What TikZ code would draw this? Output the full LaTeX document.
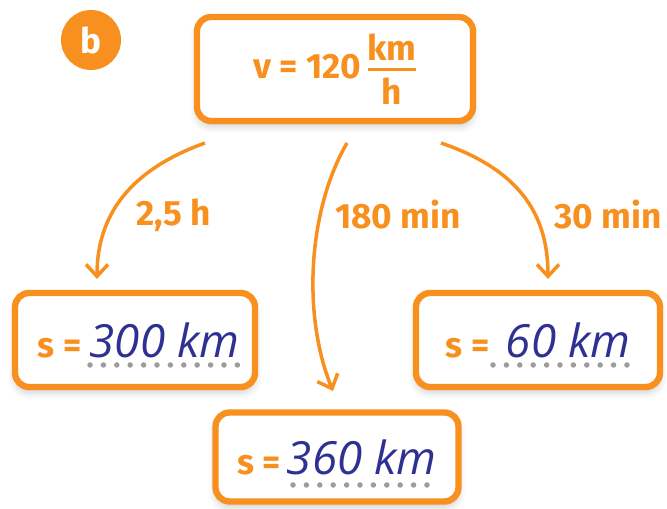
\documentclass[tikz,border=0pt]{standalone}
\usepackage{fontspec}
\setmainfont{Fira Sans}
\newfontfamily\manoscritto{Open Sans}
\usetikzlibrary{arrows.meta,shadows.blur}

\definecolor{arancio}{HTML}{F7901E}
\definecolor{inchiostro}{HTML}{2E3192}
\definecolor{puntini}{HTML}{9C9C9C}

% frazione con barra spessa
\newcommand{\frazione}[2]{$\vcenter{\offinterlineskip\halign{\hfil##\hfil\cr #1\cr\noalign{\kern4pt}\rule{1.35em}{1.7pt}\cr\noalign{\kern4pt}#2\cr}}$}
% scrittura a mano dei risultati
\newcommand{\risultatofont}{\manoscritto\mdseries\itshape\fontsize{26}{30}\selectfont\color{inchiostro}}

\begin{document}
\begin{tikzpicture}[x=0.02cm, y=-0.02cm,
    riquadro/.style={draw=arancio, line width=3.6pt, rounded corners=8pt, fill=white,
        inner sep=0pt, font=\bfseries\fontsize{20}{24}\selectfont, text=arancio,
        blur shadow={shadow xshift=0pt, shadow yshift=-3pt, shadow opacity=20, shadow blur radius=4pt}},
    tempo/.style={text=arancio, font=\bfseries\fontsize{20}{24}\selectfont},
    freccia/.style={draw=arancio, line width=2pt, -{Straight Barb[length=0.24cm, width=0.44cm]}},
    puntinato/.style={draw=puntini, line width=0.11cm, line cap=round, dash pattern=on 0pt off 0.268cm}]

    \useasboundingbox (0,0) rectangle (667,509);

    % --- Etichetta b ---
    \node[circle, fill=arancio, minimum size=1.2cm, inner sep=0pt, text=white,
        font=\bfseries\fontsize{20}{24}\selectfont] (lettera) at (91,40) {b};

    % --- Velocita' in alto ---
    \node[riquadro, minimum width=5.52cm, minimum height=2.08cm] (vel) at (335,69)
        {v = 120\,\frazione{km}{h}};

    % --- Risultati ---
    \node[riquadro, minimum width=4.8cm, minimum height=1.88cm] (sA) at (135,340)
        {\hspace{4pt}s =\ {\risultatofont 300 km}};
    \node[riquadro, minimum width=4.88cm, minimum height=1.88cm] (sC) at (538,340)
        {s =\ \ {\risultatofont 60 km}};
    \node[riquadro, minimum width=4.86cm, minimum height=1.78cm] (sB) at (337,457)
        {s =\,{\risultatofont 360 km}};

    % righe puntinate sotto i risultati
    \foreach \xa/\xb/\y in {90/238/365, 493/640/365, 293/440/485} {
        \draw[puntinato] (\xa,\y) -- (\xb,\y);
    }

    % --- Frecce con i tempi ---
    \coordinate (pA) at (205,143);
    \coordinate (pB) at (347,143);
    \coordinate (pC) at (441,143);
    \coordinate (aA) at (97,279);
    \coordinate (aB) at (333,391);
    \coordinate (aC) at (548,279);

    \draw[freccia] (pA) .. controls (130,170) and (97,215) .. (aA);
    \draw[freccia] (pB) .. controls (308,210) and (302,315) .. (aB);
    \draw[freccia] (pC) .. controls (520,170) and (548,215) .. (aC);

    \node[tempo] (tA) at (174,215) {2,5 h};
    \node[tempo] (tB) at (398,215) {180 min};
    \node[tempo] (tC) at (608,215) {30 min};

\end{tikzpicture}
\end{document}
